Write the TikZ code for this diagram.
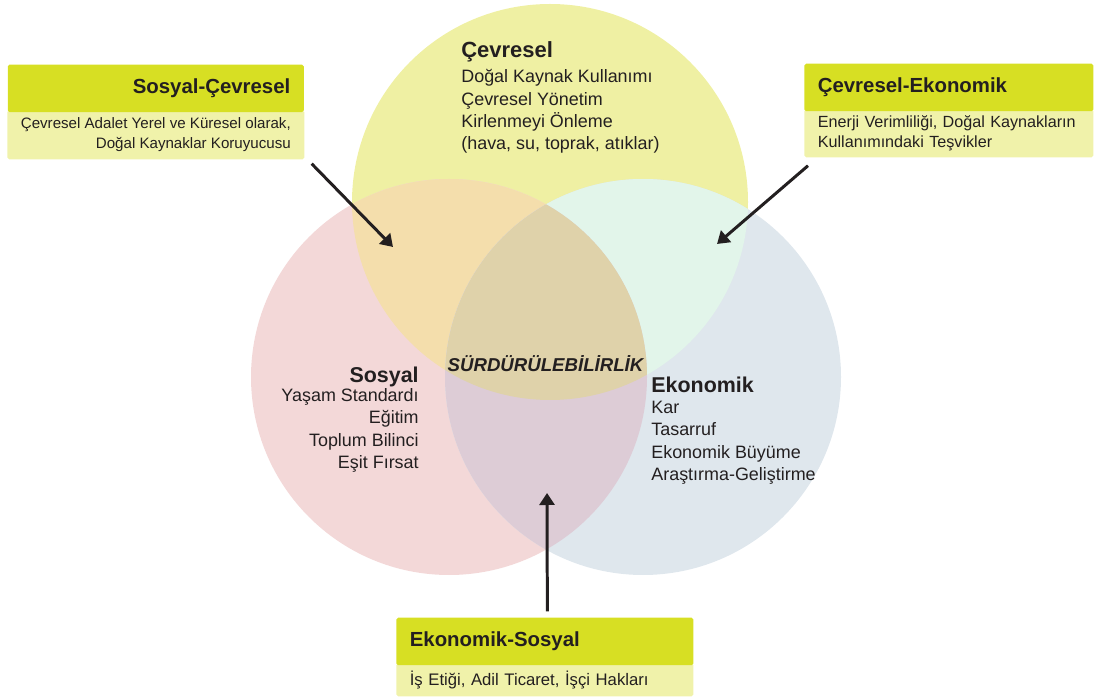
\documentclass[tikz,border=0pt]{standalone}
\usepackage{fontspec}
\setmainfont{Liberation Sans}
\usetikzlibrary{arrows.meta,positioning}

\begin{document}
\begin{tikzpicture}[>={Triangle[length=0.24cm,width=0.30cm]},
  boxhead/.style={fill=limecolor, text=inkcolor, inner xsep=0.27cm, minimum height=0.95cm,
    rounded corners=1pt, font=\fontsize{11.6}{13}\selectfont\bfseries},
  boxbody/.style={fill=palecolor, text=inkcolor, inner xsep=0.27cm,
    rounded corners=1pt, font=\fontsize{9.2}{11.5}\selectfont},
  circtext/.style={text=inkcolor, inner sep=0pt, font=\fontsize{10.2}{12.8}\selectfont},
  pointer/.style={->, line width=1.7pt, draw=inkcolor}]

\definecolor{inkcolor}{RGB}{35, 31, 32}
\definecolor{limecolor}{RGB}{215, 223, 35}
\definecolor{palecolor}{RGB}{240, 242, 170}
\definecolor{envcolor}{RGB}{239, 240, 163}
\definecolor{soccolor}{RGB}{243, 216, 216}
\definecolor{ecocolor}{RGB}{223, 231, 237}
\definecolor{envsoccolor}{RGB}{244, 222, 172}
\definecolor{envecocolor}{RGB}{226, 245, 234}
\definecolor{ecosoccolor}{RGB}{221, 204, 214}
\definecolor{allcolor}{RGB}{223, 210, 170}

\useasboundingbox (0, 0) rectangle (21.88, 13.94);

\coordinate (env) at (11.00, 9.90);
\coordinate (soc) at (8.98, 6.40);
\coordinate (eco) at (12.86, 6.40);

% the three circles and their overlaps
\fill[envcolor] (env) circle (3.96);
\fill[soccolor] (soc) circle (3.96);
\fill[ecocolor] (eco) circle (3.96);
\begin{scope}
  \clip (env) circle (3.96);
  \fill[envsoccolor] (soc) circle (3.96);
  \fill[envecocolor] (eco) circle (3.96);
\end{scope}
\begin{scope}
  \clip (soc) circle (3.96);
  \fill[ecosoccolor] (eco) circle (3.96);
  \clip (env) circle (3.96);
  \fill[allcolor] (eco) circle (3.96);
\end{scope}

% base anchor = baseline of the last line
\node[circtext, anchor=base west, align=left] (envtext) at (9.22, 10.94)
  {{\fontsize{12.5}{14}\selectfont\bfseries Çevresel}\\[1.4pt]
   Doğal Kaynak Kullanımı\\ Çevresel Yönetim\\ Kirlenmeyi Önleme\\ (hava, su, toprak, atıklar)};
\node[circtext, anchor=base east, align=right] (soctext) at (8.38, 4.57)
  {{\fontsize{12.2}{14}\selectfont\bfseries Sosyal}\\[-2pt]
   Yaşam Standardı\\ Eğitim\\ Toplum Bilinci\\ Eşit Fırsat};
\node[circtext, anchor=base west, align=left] (ecotext) at (13.02, 4.33)
  {{\fontsize{12.2}{14}\selectfont\bfseries Ekonomik}\\[-0.9pt]
   Kar\\ Tasarruf\\ Ekonomik Büyüme\\ Araştırma-Geliştirme};
\node[circtext, anchor=base, font=\fontsize{10.6}{12}\selectfont\bfseries\itshape] (sustain)
  at (10.91, 6.50) {SÜRDÜRÜLEBİLİRLİK};

% Sosyal-Cevresel
\node[boxbody, anchor=north west, minimum width=5.92cm, minimum height=0.98cm,
  align=right, font=\fontsize{8.6}{11.5}\selectfont]
  (scbody) at (0.14, 11.74)
  {Çevresel Adalet Yerel ve Küresel olarak,\\ Doğal Kaynaklar Koruyucusu};
\node[boxhead, above=-0.05cm of scbody, minimum width=5.92cm, text width=5.38cm,
  align=right] (schead) {Sosyal-Çevresel};

% Cevresel-Ekonomik
\node[boxbody, anchor=north west, minimum width=5.78cm, minimum height=0.96cm,
  text width=5.24cm, align=left] (cebody) at (16.08, 11.76)
  {Enerji Verimliliği, Doğal Kaynakların\\ Kullanımındaki Teşvikler};
\node[boxhead, above=-0.05cm of cebody, minimum width=5.78cm, text width=5.24cm,
  align=left] (cehead) {Çevresel-Ekonomik};

% Ekonomik-Sosyal
\node[boxbody, anchor=north west, minimum width=5.94cm, minimum height=0.66cm,
  text width=5.40cm, align=left, font=\fontsize{9.5}{11.5}\selectfont]
  (esbody) at (7.92, 0.68) {İş Etiği, Adil Ticaret, İşçi Hakları};
\node[boxhead, above=-0.05cm of esbody, minimum width=5.94cm, text width=5.40cm,
  align=left] (eshead) {Ekonomik-Sosyal};

\coordinate (sctip) at (7.86, 9.00);
\coordinate (cetip) at (14.34, 9.06);
\coordinate (estip) at (10.94, 4.08);

\draw[pointer] ([shift={(0.14,-0.08)}]scbody.south east) -- (sctip);
\draw[pointer] ([shift={(0.08,-0.16)}]cebody.south west) -- (cetip);
\draw[pointer] ([shift={(0.05,0.12)}]eshead.north) -- (estip);

\end{tikzpicture}
\end{document}
